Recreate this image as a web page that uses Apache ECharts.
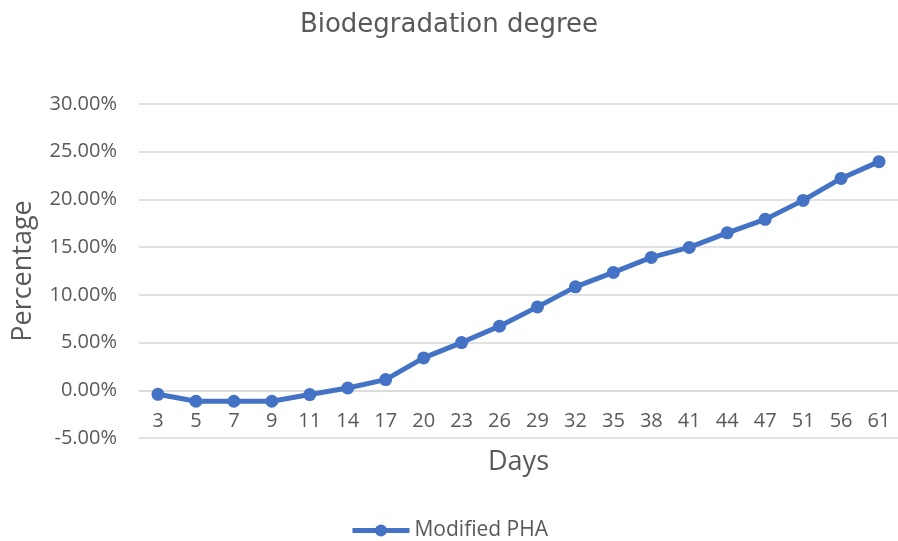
<!DOCTYPE html>
<html>
<head>
<meta charset="utf-8">
<script src="https://cdn.jsdelivr.net/npm/echarts@6/dist/echarts.min.js"></script>
<style>
  html, body { margin: 0; padding: 0; background: #fff; }
  #chart { width: 898px; height: 541px; }
</style>
</head>
<body>
<div id="chart"></div>
<script>
// days of measurement
const days = ['3', '5', '7', '9', '11', '14', '17', '20', '23', '26', '29', '32', '35', '38', '41', '44', '47', '51', '56', '61']
// biodegradation in percent
const modifiedPHA = [-0.42, -1.15, -1.15, -1.15, -0.45, 0.24, 1.12, 3.39, 5.0, 6.72, 8.74, 10.84, 12.35, 13.92, 14.97, 16.5, 17.91, 19.9, 22.2, 23.96]
const yMin = -5
const yMax = 30
const yStep = 5

const textColor = '#595959'
const gridColor = '#d9d9d9'
const lineColor = '#4472C4'

const chart = echarts.init(document.getElementById('chart'))
chart.setOption({
  backgroundColor: '#fff',
  animation: false,
  title: {
    text: 'Biodegradation degree',
    left: 'center',
    top: 7,
    textStyle: {
      fontFamily: 'DejaVu Sans',
      fontSize: 26,
      fontWeight: 'normal',
      color: textColor,
    },
  },
  legend: {
    top: 515,
    left: 'center',
    itemWidth: 57,
    itemHeight: 15,
    lineStyle: { width: 5 },
    textStyle: {
      fontFamily: 'Open Sans',
      fontSize: 21,
      color: textColor,
    },
    data: ['Modified PHA'],
  },
  grid: {
    left: 139,
    top: 104,
    width: 766,
    bottom: 103,
  },
  xAxis: {
    type: 'category',
    data: days,
    position: 'bottom',
    // axis crosses at 0 like the original, so lift it off the bottom edge
    offset: -47.6,
    name: 'Days',
    nameLocation: 'middle',
    nameGap: 58,
    nameTextStyle: {
      fontFamily: 'Open Sans',
      fontSize: 27,
      color: textColor,
    },
    axisLine: {
      onZero: false,
      lineStyle: { color: gridColor, width: 1.5 },
    },
    axisTick: { show: false },
    axisLabel: {
      margin: 21,
      fontFamily: 'Open Sans',
      fontSize: 20,
      color: textColor,
    },
  },
  yAxis: {
    type: 'value',
    min: yMin,
    max: yMax,
    interval: yStep,
    name: 'Percentage',
    nameLocation: 'middle',
    nameGap: 102,
    nameTextStyle: {
      fontFamily: 'Open Sans',
      fontSize: 27,
      color: textColor,
    },
    axisLine: { show: false },
    axisTick: { show: false },
    axisLabel: {
      margin: 22,
      fontFamily: 'Open Sans',
      fontSize: 20,
      color: textColor,
      formatter: (v) => v.toFixed(2) + '%',
    },
    splitLine: {
      lineStyle: { color: gridColor, width: 1.5 },
    },
  },
  series: [
    {
      name: 'Modified PHA',
      type: 'line',
      data: modifiedPHA,
      symbol: 'circle',
      symbolSize: 13,
      itemStyle: { color: lineColor },
      lineStyle: { color: lineColor, width: 5 },
    },
  ],
})
</script>
</body>
</html>
